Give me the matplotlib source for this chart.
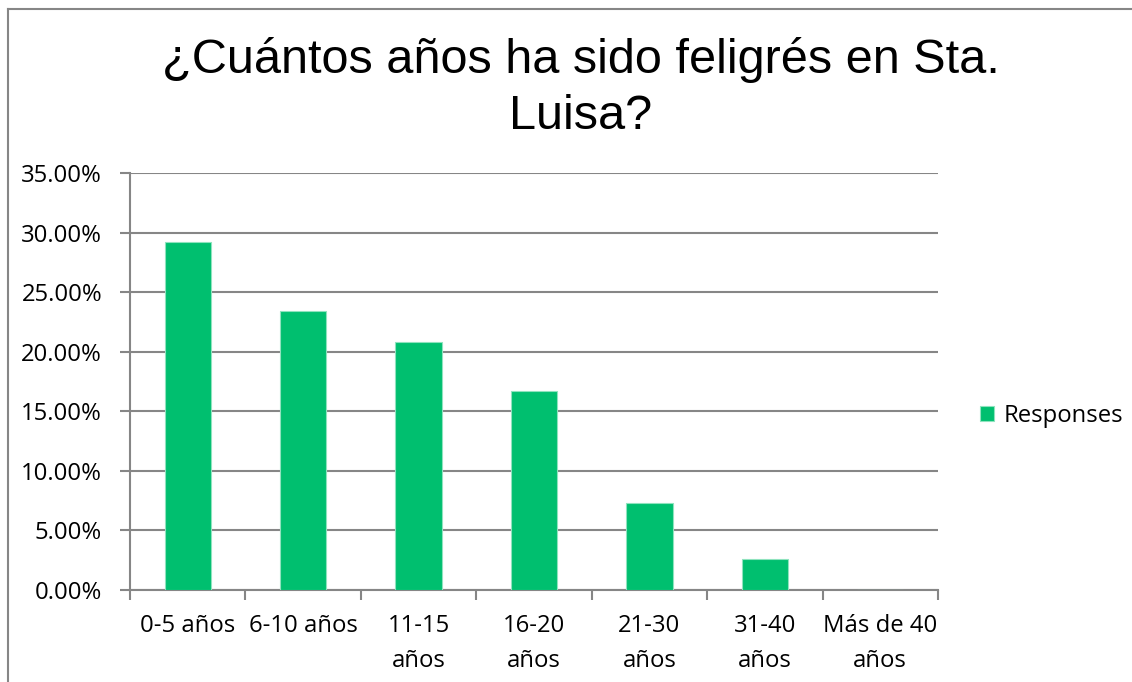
import matplotlib
matplotlib.use("Agg")
import matplotlib.pyplot as plt
from matplotlib.lines import Line2D
from matplotlib.ticker import FixedLocator, FuncFormatter

# survey answers (share of respondents, %)
categories = ["0-5 años", "6-10 años", "11-15\naños", "16-20\naños",
              "21-30\naños", "31-40\naños", "Más de 40\naños"]
responses = [29.17, 23.44, 20.83, 16.67, 7.29, 2.60, 0.0]
y_ticks = [0, 5, 10, 15, 20, 25, 30, 35]

title = "¿Cuántos años ha sido feligrés en Sta.\nLuisa?"
series_name = "Responses"

GREEN = "#00BF6F"
GRID = "#868686"
TEXT = "#000000"
LABEL_FONT = ["Open Sans", "DejaVu Sans"]
LABEL_SIZE = 17.2

W, H = 1132, 682
fig = plt.figure(figsize=(W / 100, H / 100), dpi=100)
fig.patch.set_facecolor("white")

ax = fig.add_axes([130 / W, 1 - 590 / H, (938 - 130) / W, (590 - 173) / H])

x = list(range(len(categories)))
ax.bar(x, responses, width=0.4, color=GREEN, edgecolor="#8FE3BE",
       linewidth=0.8, label=series_name, zorder=3)

ax.set_xlim(-0.5, len(categories) - 0.5)
ax.set_ylim(0, 35)
ax.yaxis.set_major_locator(FixedLocator(y_ticks))
ax.yaxis.set_major_formatter(FuncFormatter(lambda v, p: f"{v:.2f}%"))
ax.grid(axis="y", color=GRID, linewidth=1.5, zorder=0)
ax.set_axisbelow(True)

# category labels centred, tick marks on the boundaries
ax.set_xticks(x)
ax.set_xticklabels(categories, fontsize=LABEL_SIZE, family=LABEL_FONT,
                   color=TEXT, linespacing=1.65)
ax.set_xticks([i - 0.5 for i in range(len(categories) + 1)], minor=True)
ax.tick_params(axis="x", which="major", length=0, pad=17)
ax.tick_params(axis="x", which="minor", length=7, width=1.5, color=GRID,
               direction="out")
ax.tick_params(axis="y", length=7, width=1.5, color=GRID,
               labelsize=LABEL_SIZE, labelcolor=TEXT, pad=13)
for lbl in ax.get_yticklabels():
    lbl.set_family(LABEL_FONT)

for side in ("top", "right"):
    ax.spines[side].set_visible(False)
for side in ("left", "bottom"):
    ax.spines[side].set_color(GRID)
    ax.spines[side].set_linewidth(1.5)

fig.text(581 / W, 1 - 88 / H, title, ha="center", va="center",
         fontsize=35, family=["Liberation Sans", "DejaVu Sans"],
         color=TEXT, linespacing=1.33)

ax.legend(loc="center left", bbox_to_anchor=(958 / W, 1 - 416 / H),
          bbox_transform=fig.transFigure, frameon=False,
          prop={"family": LABEL_FONT, "size": LABEL_SIZE},
          handlelength=0.62, handleheight=0.62, handletextpad=0.4)

# chart area frame (only top and left edges are in view)
fig.add_artist(Line2D([8 / W, 8 / W], [0, 1 - 9 / H],
                      transform=fig.transFigure, color=GRID, linewidth=1.5))
fig.add_artist(Line2D([8 / W, 1], [1 - 9 / H, 1 - 9 / H],
                      transform=fig.transFigure, color=GRID, linewidth=1.5))

fig.savefig("out.png", dpi=100)
